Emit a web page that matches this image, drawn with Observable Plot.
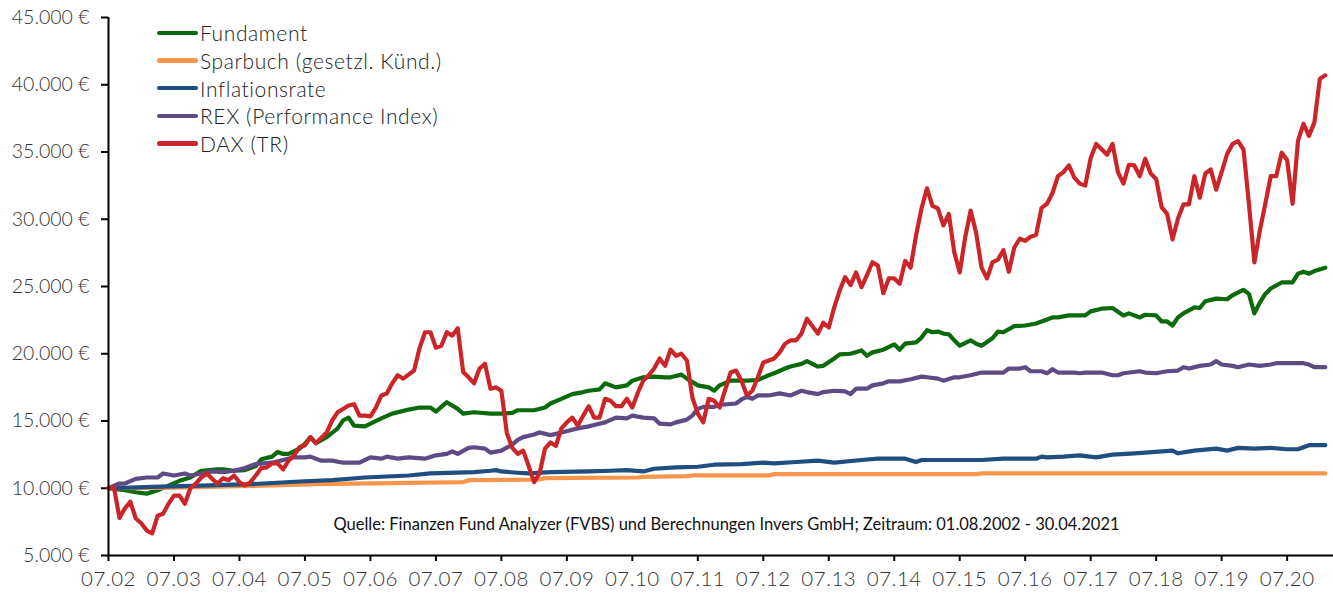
<!DOCTYPE html>
<html>
<head>
<meta charset="utf-8">
<script src="https://cdn.jsdelivr.net/npm/d3@7"></script>
<script src="https://cdn.jsdelivr.net/npm/@observablehq/plot@0.6"></script>
<style>
  html, body { margin: 0; padding: 0; background: #fff; }
  #wrap { position: relative; width: 1333px; height: 594px; font-family: Lato, "Open Sans", sans-serif; }
  #legend { position: absolute; left: 157px; top: 19px; }
  .row { height: 27.7px; display: flex; align-items: center; font-size: 21px; letter-spacing: 0.6px; font-weight: 300; color: #222; }
  .sw { width: 41px; height: 4.5px; border-radius: 2.5px; margin-right: 2px; }
  #caption { position: absolute; left: 0; width: 1453px; top: 514px; text-align: center; font-size: 16.5px; color: #111; }
  svg g[aria-label="x-axis tick label"] text { letter-spacing: 0.5px; }
</style>
</head>
<body>
<div id="wrap">
  <div id="chart"></div>
  <div id="legend"></div>
  <div id="caption"></div>
</div>
<script>
// ---- data (x = months since 08.2002, y = value in €) ----
const seriesNames = ["Fundament", "Sparbuch (gesetzl. Künd.)", "Inflationsrate", "REX (Performance Index)", "DAX (TR)"];
const seriesColors = ["#0b6a0b", "#f7964a", "#1f4e80", "#5e4a84", "#cc2529"];

const xTickMonths = [0,12,24,36,48,60,72,84,96,108,120,132,144,156,168,180,192,204,216];
const xTickLabels = ["07.02","07.03","07.04","07.05","07.06","07.07","07.08","07.09","07.10","07.11","07.12","07.13","07.14","07.15","07.16","07.17","07.18","07.19","07.20"];
const yTicks = [5000,10000,15000,20000,25000,30000,35000,40000,45000];

const fundMonth = [0,3,5,7,9,11,13,15,17,20,21,23,25,27,28,30,31,32,33,35,36,37,38,40,42,43,44,45,47,48,50,52,55,57,59,60,62,64,65,67,70,72,74,75,78,80,81,83,85,87,88,90,91,93,95,96,98,100,102,103,105,106,108,110,111,112,114,117,119,121,122,124,125,127,128,130,131,133,134,136,138,139,140,142,144,145,146,148,149,150,151,152,153,154,155,156,158,159,160,162,163,164,166,168,170,171,173,174,176,177,179,180,182,184,186,187,189,190,192,193,194,195,196,197,199,200,201,203,205,206,208,209,210,211,212,213,215,217,218,219,220,221,223];
const fundValue = [10000,9850,9700,9600,9850,10200,10550,10800,11300,11400,11400,11300,11350,11650,12150,12350,12700,12550,12550,12950,13300,13800,13350,13800,14450,15050,15250,14650,14600,14800,15200,15550,15850,16000,16000,15700,16400,15900,15550,15650,15550,15550,15600,15800,15800,16000,16300,16650,17000,17150,17250,17350,17800,17500,17650,18000,18250,18300,18250,18250,18450,18150,17650,17500,17250,17650,18000,18000,18050,18400,18550,18900,19050,19250,19450,19050,19100,19650,19950,20000,20250,19850,20100,20300,20700,20300,20750,20850,21200,21750,21600,21650,21500,21450,21000,20600,21000,20750,20600,21150,21650,21600,22050,22100,22250,22400,22700,22700,22850,22850,22850,23150,23350,23400,22850,23000,22700,22900,22850,22400,22400,22100,22700,23000,23450,23400,23900,24100,24050,24350,24750,24450,23000,23800,24450,24850,25300,25300,25950,26100,25950,26150,26400];

const sparMonth = [0,12,24,38,55,65,66,79,80,97,98,106,107,121,122,159,160,223];
const sparValue = [10000,10050,10150,10300,10400,10450,10600,10650,10750,10800,10850,10900,10950,10950,11050,11050,11100,11100];

const inflMonth = [0,8,17,26,35,41,47,55,59,67,70,71,72,75,77,81,88,92,95,98,100,104,108,111,116,120,122,126,130,133,138,141,146,148,149,154,160,164,170,171,172,175,178,181,184,188,190,195,196,199,203,205,207,210,213,216,218,220,223];
const inflValue = [10000,10100,10200,10300,10500,10600,10800,10950,11100,11200,11300,11350,11250,11150,11100,11200,11250,11300,11350,11250,11450,11550,11600,11750,11800,11900,11850,11950,12050,11900,12100,12200,12200,11950,12100,12100,12100,12200,12200,12350,12300,12350,12450,12300,12500,12600,12650,12800,12600,12800,12950,12800,13000,12950,13000,12900,12900,13200,13200];

const rexMonth = [0,2,3,5,7,9,10,12,14,15,17,19,21,23,25,27,30,32,34,36,37,39,41,43,46,48,50,51,53,55,58,60,62,63,64,66,67,69,70,72,74,75,76,78,79,81,83,85,86,88,89,91,93,95,96,98,100,101,103,104,106,107,108,109,111,112,115,116,117,118,119,121,123,125,127,128,130,131,133,135,136,137,139,140,142,143,145,147,149,150,152,153,155,156,158,160,162,164,165,167,168,169,171,172,173,174,177,178,179,182,184,185,186,189,190,192,194,196,197,198,200,202,203,204,206,207,209,211,213,214,217,219,220,221,223];
const rexValue = [10000,10350,10350,10700,10800,10800,11100,10950,11100,10950,11100,11250,11200,11300,11500,11800,11900,12100,12300,12300,12350,12050,12050,11900,11900,12300,12200,12350,12200,12300,12200,12450,12550,12750,12550,13000,13050,12950,12650,12800,13250,13600,13800,14000,14150,13950,14150,14350,14450,14600,14700,14900,15250,15200,15400,15250,15200,14800,14750,14900,15100,15400,15900,16050,16050,16200,16300,16600,16800,16650,16900,16900,17050,16900,17250,17150,17000,17150,17250,17200,17000,17400,17400,17650,17800,17950,17950,18100,18300,18250,18150,18000,18250,18250,18400,18600,18600,18600,18900,18900,19000,18700,18700,18550,18850,18600,18600,18550,18600,18600,18400,18400,18550,18700,18600,18550,18700,18750,19000,18900,19100,19200,19450,19200,19100,19000,19200,19100,19200,19300,19300,19300,19200,19000,19000];

const daxMonth = [0,1,2,3,4,5,6,7,8,9,10,11,12,13,14,15,16,17,18,19,20,21,22,23,24,25,26,27,28,29,30,31,32,33,34,35,36,37,38,40,41,42,44,45,46,47,48,49,50,51,52,53,54,56,57,58,59,60,61,62,63,64,65,66,67,68,69,70,71,72,73,74,75,76,77,78,79,80,81,82,83,84,85,86,87,88,89,90,91,92,93,94,95,96,97,98,99,100,101,102,103,104,105,106,107,108,109,110,111,112,113,114,115,116,117,118,119,120,122,123,124,125,126,127,128,130,131,132,133,134,135,136,137,138,139,140,141,142,143,144,145,146,147,148,149,150,151,152,153,154,155,156,157,158,159,160,161,162,163,164,165,166,167,168,169,170,171,172,173,174,175,176,177,178,179,180,181,182,183,184,185,186,187,188,189,190,191,192,193,194,195,196,197,198,199,200,201,202,203,204,205,206,207,208,209,210,211,212,213,214,215,216,217,218,219,220,221,222,223];
const daxValue = [10000,10070,7800,8500,9000,7750,7400,6850,6650,7950,8100,8850,9450,9450,8850,10000,10350,10800,11100,10700,10350,10750,10600,10950,10450,10200,10450,10950,11500,11550,11850,11850,11400,12050,12450,13050,13200,13800,13350,14150,15050,15650,16150,16250,15400,15400,15350,16000,16900,17050,17800,18400,18150,18750,20400,21600,21600,20450,20600,21600,21350,21900,18650,18250,17800,18900,19250,17400,17500,17250,14100,13000,12550,12800,11650,10450,11100,12950,13400,13150,14450,14900,15250,14650,15400,16100,15250,15250,16650,16500,16100,16100,16650,16000,17100,18000,18400,18900,19650,19100,20300,19850,20000,19500,16750,15550,14900,16650,16500,16000,17300,18600,18750,18000,16900,17250,18250,19350,19650,20100,20750,21000,21000,21500,22600,21500,22300,21950,23450,24700,25700,25100,26050,24950,25850,26800,26550,24500,25600,25600,25200,26900,26400,28800,30800,32300,31000,30800,29550,30400,27550,26050,28650,30650,29000,26400,25600,26800,27000,27700,26100,27900,28550,28400,28700,28850,30850,31150,31950,33200,33500,34000,33100,32650,32500,34550,35600,35200,34800,35600,33500,32650,34050,34000,33200,34500,33400,33000,30900,30400,28500,30050,31100,31100,33200,31600,33400,33700,32200,33500,34850,35600,35800,35200,31150,26800,29150,31150,33200,33200,34950,34400,31150,35850,37100,36200,37200,40450,40700];

// ---- build tables ----
const monthsList = [fundMonth, sparMonth, inflMonth, rexMonth, daxMonth];
const valuesList = [fundValue, sparValue, inflValue, rexValue, daxValue];
const tables = monthsList.map((ms, k) => ms.map((m, i) => ({m, v: valuesList[k][i], s: seriesNames[k]})));

const fmtEuro = v => String(v).replace(/\B(?=(\d{3})+(?!\d))/g, ".") + " €";

const chart = Plot.plot({
  width: 1333,
  height: 594,
  marginLeft: 108,
  marginRight: 0,
  marginTop: 17,
  marginBottom: 39,
  style: {fontFamily: "Lato, 'Open Sans', sans-serif", fontSize: "19.5px", color: "#333", fontWeight: 300, background: "transparent"},
  x: {domain: [0, 224.5]},
  y: {domain: [5000, 45000]},
  marks: [
    Plot.axisY({ticks: yTicks, tickFormat: fmtEuro, tickSize: 7, tickPadding: 12, label: null, strokeWidth: 2, stroke: "#000"}),
    Plot.axisX({ticks: xTickMonths, tickFormat: (d, i) => xTickLabels[i], tickSize: 6, tickPadding: 10, fontSize: "20.5px", label: null, strokeWidth: 2, stroke: "#000"}),
    ...tables.map((t, k) => Plot.line(t, {x: "m", y: "v", stroke: seriesColors[k], strokeWidth: 4.2, strokeLinejoin: "round", strokeLinecap: "round"})),
    Plot.ruleX([0], {stroke: "#000", strokeWidth: 2}),
    Plot.ruleY([5000], {stroke: "#000", strokeWidth: 2})
  ]
});
document.getElementById("chart").appendChild(chart);

// legend
const legend = document.getElementById("legend");
seriesNames.forEach((name, k) => {
  const row = document.createElement("div");
  row.className = "row";
  const sw = document.createElement("span");
  sw.className = "sw";
  sw.style.background = seriesColors[k];
  const tx = document.createElement("span");
  tx.textContent = name;
  row.appendChild(sw); row.appendChild(tx);
  legend.appendChild(row);
});
document.getElementById("caption").textContent = "Quelle: Finanzen Fund Analyzer (FVBS) und Berechnungen Invers GmbH; Zeitraum: 01.08.2002 - 30.04.2021";
</script>
</body>
</html>
